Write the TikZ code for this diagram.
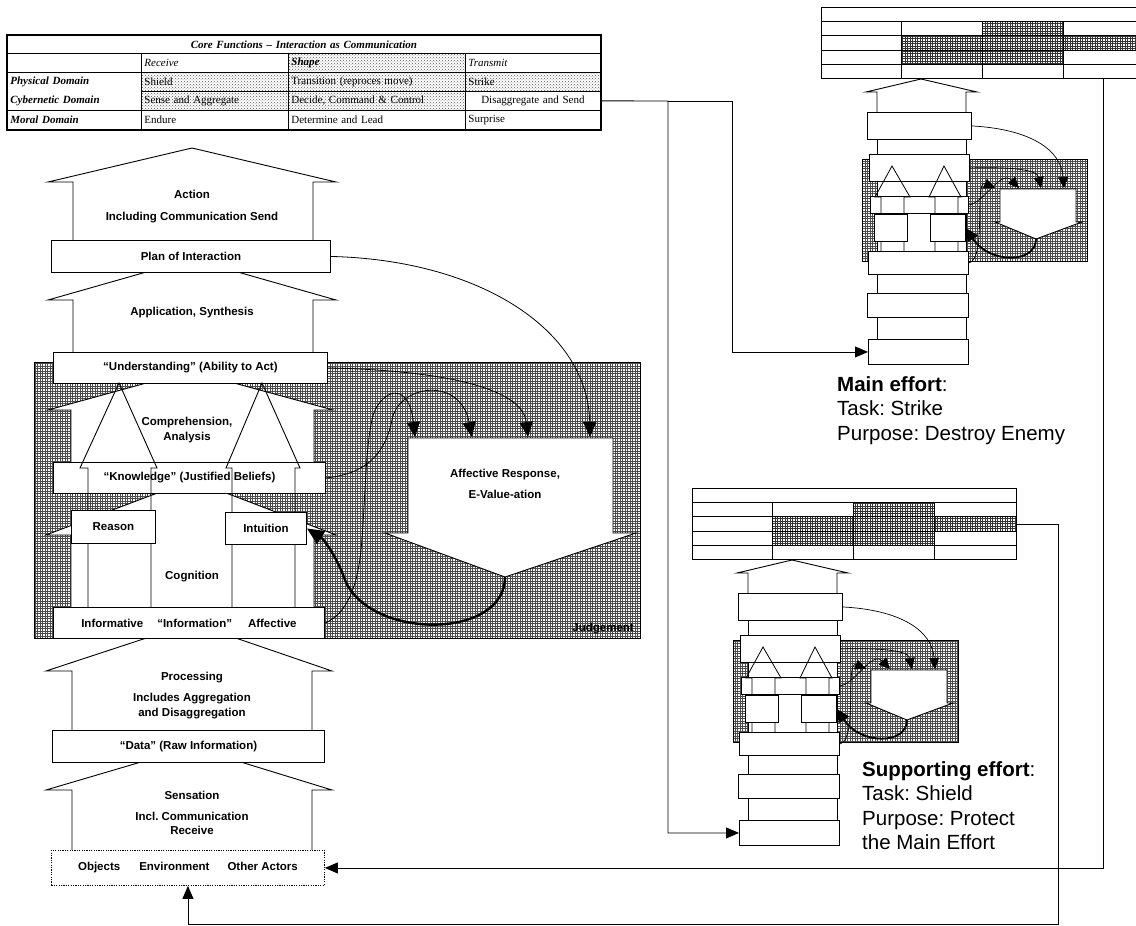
\documentclass[tikz,border=0pt]{standalone}
\usepackage{fontspec}
\setmainfont{Liberation Serif}
\setsansfont{Liberation Sans}
\usetikzlibrary{arrows.meta,patterns}

% fine grid used for the judgement areas
\pgfdeclarepatternformonly{finegrid}{\pgfqpoint{-0.5pt}{-0.5pt}}{\pgfqpoint{3pt}{3pt}}{\pgfqpoint{2.5pt}{2.5pt}}{%
  \pgfsetlinewidth{0.6pt}%
  \pgfpathmoveto{\pgfqpoint{-0.5pt}{0pt}}\pgfpathlineto{\pgfqpoint{3pt}{0pt}}%
  \pgfpathmoveto{\pgfqpoint{0pt}{-0.5pt}}\pgfpathlineto{\pgfqpoint{0pt}{3pt}}%
  \pgfusepath{stroke}}

\newcommand{\diagfont}{\sffamily\bfseries\fontsize{11.5}{14}\selectfont}
\newcommand{\tabfont}{\rmfamily\fontsize{11}{13}\selectfont}

\tikzset{
  house/.style={draw,fill=white,line width=0.9pt},
  box/.style={draw,fill=white,line width=0.9pt,inner sep=0pt,anchor=north west,font=\diagfont},
  txt/.style={inner sep=0pt,align=center,font=\diagfont},
  cell/.style={draw,line width=0.8pt,anchor=north west,inner xsep=3pt,inner ysep=0pt,
    minimum height=19pt,align=left,text width=#1,font=\tabfont},
  dots/.style={pattern=crosshatch dots,pattern color=black!65},
  judge/.style={draw,line width=0.8pt,pattern=finegrid,pattern color=black!70},
  feed/.style={line width=0.8pt,-{Triangle[length=15pt,width=13pt]}},
  heavy/.style={line width=2.4pt,-{Triangle[length=17pt,width=15pt]}},
  sfeed/.style={line width=0.7pt,-{Triangle[length=11pt,width=10pt]}},
  sheavy/.style={line width=1.8pt,-{Triangle[length=13pt,width=12pt]}},
  sbox/.style={draw,fill=white,line width=0.9pt,inner sep=0pt,anchor=north west},
  conn/.style={line width=0.9pt,-{Triangle[length=13pt,width=11pt]}},
  efftext/.style={inner sep=0pt,align=left,anchor=north west,font=\sffamily\fontsize{20.5}{24.6}\selectfont},
}

% reduced copy of the cognitive hierarchy, #1 shift, #2 name prefix
\newcommand{\effortfig}[2]{%
  \begin{scope}[shift={#1}]
    \fill[pattern=finegrid,pattern color=black!80] (853,502) rectangle (934,516) (772,516) rectangle (1016,531) (772,531) rectangle (934,545);
    \draw[line width=0.8pt] (692,502) -- (1016,502) (692,516) -- (1016,516)
      (692,531) -- (1016,531) (692,545) -- (1016,545)
      (772,502) -- (772,559) (853,502) -- (853,559) (934,502) -- (934,559);
    \node[sbox,fill=none,line width=1.4pt,minimum width=324pt,minimum height=71pt] (#2T) at (692,488) {};
    \filldraw[house] (748,593) -- (748,573) -- (737,573) -- (792,560) -- (848,573) -- (837,573) -- (837,593);
    \filldraw[house] (748,620) rectangle (837,635);
    \path[judge] (733,640) rectangle (958,742);
    \filldraw[house] (748,662) rectangle (837,732);
    \filldraw[house] (871,703) -- (871,670) -- (947,670) -- (947,703) -- (953,703) -- (907,720) -- (866,703) -- cycle;
    \node[sbox,minimum width=104pt,minimum height=27pt] (#2P) at (738,593) {};
    \node[sbox,minimum width=100pt,minimum height=27pt] (#2U) at (740,635) {};
    \node[sbox,minimum width=98pt,minimum height=17pt] (#2K) at (741,677) {};
    \draw[line width=0.8pt] (752,732) -- (752,678) -- (746,678) -- (763,647) -- (781,678) -- (775,678) -- (775,732)
      (806,732) -- (806,678) -- (800,678) -- (815,647) -- (832,678) -- (829,678) -- (829,732);
    \node[sbox,minimum width=33pt,minimum height=27pt] (#2R) at (745,695) {};
    \node[sbox,minimum width=35pt,minimum height=27pt] (#2I) at (801,695) {};
    \node[sbox,minimum width=100pt,minimum height=23pt] (#2F) at (739,732) {};
    \filldraw[house] (748,755) rectangle (837,774);
    \node[sbox,minimum width=101pt,minimum height=24pt] (#2D) at (738,774) {};
    \filldraw[house] (748,798) rectangle (837,820);
    \node[sbox,minimum width=100pt,minimum height=25pt] (#2O) at (739,820) {};
    \draw[sfeed] (#2P.east) .. controls (900,610) and (932,630) .. (935,669);
    \draw[sfeed] (#2U.east) .. controls (880,648) and (908,650) .. (912,669);
    \draw[sfeed] (#2K.east) .. controls (855,684) and (872,650) .. (890,669);
    \draw[sfeed] (#2F.east) .. controls (858,740) and (845,660) .. (866,669);
    \draw[sheavy] (907,720) .. controls (907,745) and (860,745) .. (#2I.east);
  \end{scope}}

\begin{document}
\frenchspacing
\begin{tikzpicture}[x=1pt,y=-1pt]
\useasboundingbox (0,0) rectangle (1136,926);
\clip (0,0) rectangle (1136,926);

% core functions table
\node[cell=587pt,align=center,minimum height=18pt] (core) at (7,35) {\bfseries\itshape Core Functions – Interaction as Communication};
\node[cell=128pt] (hdom) at (7,53) {};
\node[cell=141pt] (hrecv) at (141,53) {\itshape Receive};
\node[cell=171pt,dots] (hshape) at (288,53) {\bfseries\itshape Shape};
\node[cell=129pt] (htrans) at (465,53) {\itshape Transmit};
\node[cell=128pt,minimum height=38pt,font=\rmfamily\bfseries\itshape\fontsize{11}{19}\selectfont] (domains) at (7,72) {Physical Domain\\Cybernetic Domain};
\node[cell=141pt,dots] (shield) at (141,72) {Shield};
\node[cell=171pt,dots] (transit) at (288,72) {Transition (reproces move)};
\node[cell=129pt,dots] (strike) at (465,72) {Strike};
\node[cell=141pt,dots] (sense) at (141,91) {Sense and Aggregate};
\node[cell=171pt,dots] (decide) at (288,91) {Decide, Command \& Control};
\node[cell=129pt,align=center] (disagg) at (465,91) {Disaggregate and Send};
\node[cell=128pt,font=\tabfont\bfseries\itshape] (moral) at (7,110) {Moral Domain};
\node[cell=141pt] (endure) at (141,110) {Endure};
\node[cell=171pt] (lead) at (288,110) {Determine and Lead};
\node[cell=129pt] (surprise) at (465,110) {Surprise};
\draw[line width=1.6pt] (core.north west) rectangle (surprise.south east);

% judgement area
\path[judge] (34,362) rectangle (640,638);

% upward arrows of the hierarchy
\filldraw[house] (73,240) -- (73,182) -- (48,182) -- (192,148) -- (336,182) -- (313,182) -- (313,240);
\filldraw[house] (73,352) -- (73,300) -- (48,300) -- (192,259) -- (336,300) -- (313,300) -- (313,352);
\filldraw[house] (71,462) -- (71,410) -- (48,410) -- (190,371) -- (333,410) -- (314,410) -- (314,462);
\filldraw[house] (71,607) -- (71,535) -- (46,535) -- (192,480) -- (336,535) -- (314,535) -- (314,607);
\filldraw[house] (72,730) -- (72,671) -- (46,671) -- (192,623) -- (332,671) -- (312,671) -- (312,730);
\filldraw[house] (72,850) -- (72,790) -- (46,790) -- (192,747) -- (332,790) -- (312,790) -- (312,850);
\filldraw[house] (408,533) -- (408,438) -- (613,438) -- (613,533) -- (636,533) -- (505,577) -- (385,533) -- cycle;

\node[box,minimum width=279pt,minimum height=32pt] (plan) at (51,240) {Plan of Interaction};
\node[box,minimum width=274pt,minimum height=31pt] (underst) at (53,352) {“Understanding” (Ability to Act)};
\node[box,minimum width=272pt,minimum height=31pt] (knowl) at (53,462) {“Knowledge” (Justified Beliefs)};
\draw[line width=0.9pt] (88,607) -- (88,468) -- (80,468) -- (119,383) -- (157,468) -- (151,468) -- (151,607);
\draw[line width=0.9pt] (232,607) -- (232,468) -- (226,468) -- (262,383) -- (300,468) -- (295,468) -- (295,607);
\node[box,minimum width=84pt,minimum height=33pt] (reason) at (71,510) {Reason};
\node[box,minimum width=81pt,minimum height=32pt] (intuit) at (225,512) {Intuition};
\node[box,minimum width=271pt,minimum height=31pt] (inform) at (53,607) {Informative\hspace{14pt}“Information”\hspace{16pt}Affective};
\node[box,minimum width=272pt,minimum height=32pt] (data) at (52,730) {“Data” (Raw Information)};
\node[box,dash pattern=on 1.2pt off 1.2pt,minimum width=273pt,minimum height=35pt] (objects) at (51,850) {Objects\hspace{19pt}Environment\hspace{18pt}Other Actors};

\node[txt] (action) at (192,207) {Action\\[8pt]Including Communication Send};
\node[txt] (appl) at (192,313) {Application, Synthesis};
\node[txt] (compr) at (187,430) {Comprehension,\\[1pt]Analysis};
\node[txt] (cogn) at (192,577) {Cognition};
\node[txt] (proc) at (192,696) {Processing\\[7pt]Includes Aggregation\\[1pt]and Disaggregation};
\node[txt] (sens) at (192,813) {Sensation\\[7pt]Incl. Communication\\Receive};
\node[txt] (affect) at (505,484) {Affective Response,\\[7pt]E-Value-ation};
\node[txt,anchor=south east] (judg) at (634,634) {Judgement};

% feedback into the affective response
\draw[feed] (plan.east) .. controls (480,260) and (588,330) .. (590,437);
\draw[feed] (underst.east) .. controls (430,370) and (522,385) .. (528,437);
\draw[feed] (knowl.east) .. controls (365,474) and (385,455) .. (392,420) .. controls (398,385) and (460,375) .. (472,437);
\draw[feed] (inform.east) .. controls (345,615) and (357,590) .. (361,550) .. controls (366,500) and (365,420) .. (378,405) .. controls (392,385) and (410,390) .. (415,437);
\draw[heavy] (505,577) .. controls (505,640) and (370,640) .. (345,580) .. controls (338,560) and (325,540) .. (intuit.east);

% main and supporting efforts
\effortfig{(129,-481)}{m}
\effortfig{(0,0)}{s}
\node[efftext] (mtext) at (837,376) {\textbf{Main effort}:\\Task: Strike\\Purpose: Destroy Enemy};
\node[efftext] (stext) at (862,761) {\textbf{Supporting effort}:\\Task: Shield\\Purpose: Protect\\the Main Effort};

% links between the pictures
\coordinate (fork) at (668,101);
\coordinate (forkm) at (732,101);
\coordinate (mdrop) at (1103,78);
\coordinate (sturn) at (1058,924);
\draw[conn] (disagg.east) -- (fork) |- (sO.west);
\draw[conn] (fork) -- (forkm) |- (mO.west);
\draw[conn] (mdrop) |- (objects.east);
\draw[conn] (sT.east) -| (sturn) -| (objects.south);
\end{tikzpicture}
\end{document}
